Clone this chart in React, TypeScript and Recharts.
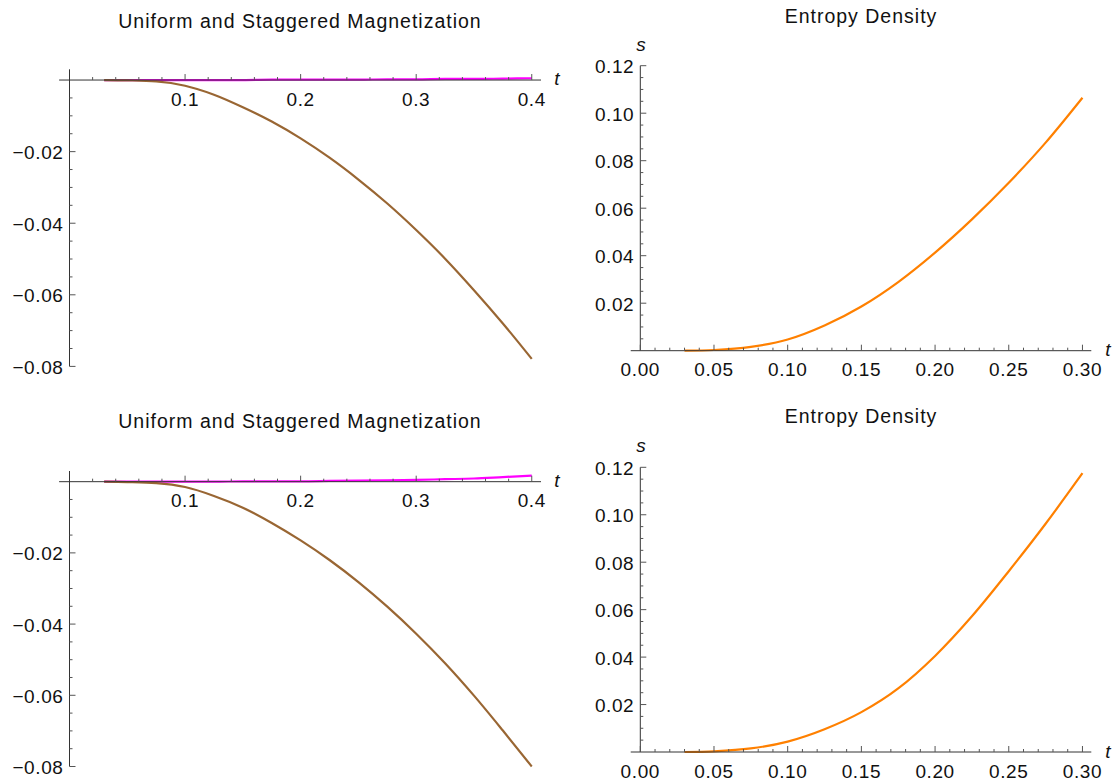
import React from 'react';
import { LineChart, Line, XAxis, YAxis, ReferenceLine } from 'recharts';

// left panels: uniform (magenta) and staggered (brown) magnetization vs t
const tMag = [0.03, 0.05, 0.075, 0.1, 0.125, 0.15, 0.175, 0.2, 0.225, 0.25, 0.275, 0.3, 0.325, 0.35, 0.375, 0.4];
const muTop = [0, 0, 0, 0, 0, 0, 0.0001, 0.0001, 0.0001, 0.0001, 0.0002, 0.0002, 0.0003, 0.0003, 0.0004, 0.0005];
const msTop = [0, -0.0001, -0.0004, -0.0016, -0.0041, -0.0076, -0.0116, -0.0163, -0.0217, -0.0278, -0.0345, -0.0419, -0.0499, -0.0587, -0.068, -0.0779];
const muBot = [0, 0, 0, 0, 0, 0.0001, 0.0001, 0.0001, 0.0002, 0.0003, 0.0004, 0.0005, 0.0007, 0.0009, 0.0013, 0.0017];
const msBot = [0, -0.0001, -0.0004, -0.0015, -0.004, -0.0073, -0.0116, -0.0165, -0.022, -0.0282, -0.0351, -0.0427, -0.051, -0.0601, -0.0699, -0.08];

// right panels: entropy density vs t
const tEnt = [0.03, 0.05, 0.075, 0.1, 0.125, 0.15, 0.175, 0.2, 0.225, 0.25, 0.275, 0.3];
const sTop = [0, 0.0003, 0.0016, 0.0047, 0.0106, 0.0186, 0.0289, 0.0413, 0.0553, 0.0707, 0.0876, 0.1065];
const sBot = [0, 0.0003, 0.0015, 0.0044, 0.0096, 0.0168, 0.0268, 0.0405, 0.0572, 0.0762, 0.0962, 0.1175];

// major tick values (labelled)
const magXMajor = [0.1, 0.2, 0.3, 0.4];
const magYMajor = [-0.02, -0.04, -0.06, -0.08];
const entXMajor = [0, 0.05, 0.1, 0.15, 0.2, 0.25, 0.3];
const entYMajor = [0.02, 0.04, 0.06, 0.08, 0.1, 0.12];

const magTitle = 'Uniform and Staggered Magnetization';
const entTitle = 'Entropy Density';

const AXIS = '#333';
const TICK = '#555';
const FONT = '"Liberation Sans", Arial, Helvetica, sans-serif';
const BROWN = '#996633';
const MAGENTA = '#ff00ff';
const ORANGE = '#ff8000';

const steps = (a: number, b: number, step: number) => {
  const out: number[] = [];
  const n = Math.round((b - a) / step);
  for (let i = 0; i <= n; i++) out.push(+(a + i * step).toFixed(4));
  return out;
};
const isMajor = (majors: number[], v: number) => majors.some((m) => Math.abs(m - v) < 1e-6);

const fmtMagX = (v: number) => v.toFixed(1);
const fmtMagY = (v: number) => '\u2212' + Math.abs(v).toFixed(2);
const fmtEnt = (v: number) => v.toFixed(2);

const labelStyle = { fontFamily: FONT, fontSize: 19, letterSpacing: 0.6, fill: '#111' };

type PanelProps = {
  left: number;
  top: number;
  width: number;
  height: number;
  margin: { top: number; right: number; bottom: number; left: number };
  yAxisWidth: number;
  xDomain: [number, number];
  yDomain: [number, number];
  axisFrom: number;
  xTicks: number[];
  yTicks: number[];
  xMajor: number[];
  yMajor: number[];
  xFmt: (v: number) => string;
  yFmt: (v: number) => string;
  data: any[];
  series: { key: string; color: string }[];
};

const X_AXIS_H = 1;

function Panel(p: PanelProps) {
  const plotH = p.height - p.margin.top - p.margin.bottom - X_AXIS_H;
  // distance between the plot bottom and the y = 0 line
  const zeroShift = (plotH * (0 - p.yDomain[0])) / (p.yDomain[1] - p.yDomain[0]);

  const xTick = (props: any) => {
    const { x, y, payload } = props;
    const v = payload.value;
    const major = isMajor(p.xMajor, v);
    const y0 = y - zeroShift;
    return (
      <g>
        <line x1={x} x2={x} y1={y0} y2={y0 - (major ? 6 : 3)} stroke={TICK} strokeWidth={1} />
        {major && (
          <text x={x} y={y0 + 19} textAnchor="middle" dominantBaseline="central" style={labelStyle}>
            {p.xFmt(v)}
          </text>
        )}
      </g>
    );
  };

  const yTick = (props: any) => {
    const { x, y, payload } = props;
    const v = payload.value;
    const major = isMajor(p.yMajor, v);
    return (
      <g>
        <line x1={x} x2={x + (major ? 6 : 3)} y1={y} y2={y} stroke={TICK} strokeWidth={1} />
        {major && (
          <text x={x - 6} y={y + 1} textAnchor="end" dominantBaseline="central" style={labelStyle}>
            {p.yFmt(v)}
          </text>
        )}
      </g>
    );
  };

  return (
    <div style={{ position: 'absolute', left: p.left, top: p.top }}>
      <LineChart width={p.width} height={p.height} data={p.data} margin={p.margin}>
        <XAxis
          type="number"
          dataKey="t"
          domain={p.xDomain}
          ticks={p.xTicks}
          interval={0}
          height={X_AXIS_H}
          tickSize={0}
          tickMargin={0}
          axisLine={false}
          tickLine={false}
          tick={xTick}
        />
        <YAxis
          type="number"
          domain={p.yDomain}
          ticks={p.yTicks}
          interval={0}
          width={p.yAxisWidth}
          tickSize={0}
          tickMargin={0}
          axisLine={{ stroke: AXIS, strokeWidth: 1 }}
          tickLine={false}
          tick={yTick}
        />
        {p.series.map((s) => (
          <Line
            key={s.key}
            type="monotone"
            dataKey={s.key}
            stroke={s.color}
            strokeWidth={2.2}
            dot={false}
            isAnimationActive={false}
          />
        ))}
        <ReferenceLine
          segment={[
            { x: p.axisFrom, y: 0 },
            { x: p.xDomain[1], y: 0 },
          ]}
          stroke={AXIS}
          strokeWidth={1}
          ifOverflow="visible"
        />
      </LineChart>
    </div>
  );
}

function Txt({ x, y, children, style }: { x: number; y: number; children: React.ReactNode; style?: any }) {
  return (
    <div
      style={{
        position: 'absolute',
        left: x,
        top: y,
        transform: 'translate(-50%, -50%)',
        whiteSpace: 'nowrap',
        fontFamily: FONT,
        lineHeight: 1,
        color: '#111',
        ...style,
      }}
    >
      {children}
    </div>
  );
}

export default function App() {
  const magTop = tMag.map((t, i) => ({ t, mu: muTop[i], ms: msTop[i] }));
  const magBot = tMag.map((t, i) => ({ t, mu: muBot[i], ms: msBot[i] }));
  const entTop = tEnt.map((t, i) => ({ t, s: sTop[i] }));
  const entBot = tEnt.map((t, i) => ({ t, s: sBot[i] }));

  const magXTicks = steps(0.02, 0.4, 0.02);
  const magYTicks = steps(-0.08, -0.005, 0.005);
  const entXTicks = steps(0, 0.3, 0.01);
  const entYTicks = steps(0.005, 0.12, 0.005);

  const magSeries = [
    { key: 'mu', color: MAGENTA },
    { key: 'ms', color: BROWN },
  ];
  const entSeries = [{ key: 's', color: ORANGE }];

  const magCommon = {
    left: 0,
    width: 560,
    height: 400,
    yAxisWidth: 60,
    xDomain: [0, 0.408] as [number, number],
    yDomain: [-0.08, 0.003] as [number, number],
    axisFrom: -0.009,
    xTicks: magXTicks,
    yTicks: magYTicks,
    xMajor: magXMajor,
    yMajor: magYMajor,
    xFmt: fmtMagX,
    yFmt: fmtMagY,
    series: magSeries,
  };
  const entCommon = {
    left: 560,
    width: 557,
    height: 400,
    yAxisWidth: 70,
    xDomain: [0, 0.306] as [number, number],
    yDomain: [0, 0.12] as [number, number],
    axisFrom: -0.0065,
    xTicks: entXTicks,
    yTicks: entYTicks,
    xMajor: entXMajor,
    yMajor: entYMajor,
    xFmt: fmtEnt,
    yFmt: fmtEnt,
    series: entSeries,
  };

  const titleStyle = { fontSize: 19.5, letterSpacing: 1 };
  const axisLabelStyle = { fontSize: 19, fontStyle: 'italic' };

  return (
    <div style={{ position: 'absolute', left: 0, top: 0, width: 1117, height: 782, background: '#fff', overflow: 'hidden' }}>
      <Panel {...magCommon} top={0} margin={{ top: 69.3, right: 19, bottom: 32.6, left: 9.5 }} data={magTop} />
      <Panel {...magCommon} top={400} margin={{ top: 71, right: 19, bottom: 32.5, left: 9.5 }} data={magBot} />
      <Panel {...entCommon} top={0} margin={{ top: 65.7, right: 25.7, bottom: 48.3, left: 10.3 }} data={entTop} />
      <Panel {...entCommon} top={400} margin={{ top: 67.3, right: 25.7, bottom: 47, left: 10.3 }} data={entBot} />

      <Txt x={300} y={21.5} style={titleStyle}>{magTitle}</Txt>
      <Txt x={300} y={421.5} style={titleStyle}>{magTitle}</Txt>
      <Txt x={861} y={16.5} style={titleStyle}>{entTitle}</Txt>
      <Txt x={861} y={417} style={titleStyle}>{entTitle}</Txt>

      <Txt x={557} y={78} style={axisLabelStyle}>t</Txt>
      <Txt x={557} y={479.5} style={axisLabelStyle}>t</Txt>
      <Txt x={1108} y={349} style={axisLabelStyle}>t</Txt>
      <Txt x={1108} y={750.5} style={axisLabelStyle}>t</Txt>
      <Txt x={641} y={44} style={axisLabelStyle}>s</Txt>
      <Txt x={641} y={445} style={axisLabelStyle}>s</Txt>
    </div>
  );
}
